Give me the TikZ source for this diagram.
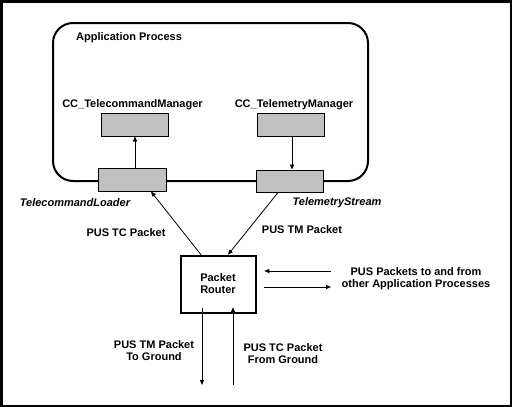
\documentclass[tikz,border=0pt]{standalone}
\usepackage{fontspec}
\setmainfont{Liberation Sans}
\usetikzlibrary{arrows.meta,calc}
\begin{document}
\begin{tikzpicture}[x=1pt,y=-1pt,
  lbl/.style={font=\fontsize{11}{12}\selectfont\bfseries, inner sep=0pt, align=center, yshift=-1.5pt},
  ilbl/.style={font=\fontsize{11}{12}\selectfont\bfseries\itshape, inner sep=0pt, yshift=-1.5pt},
  graybox/.style={draw=black, fill=gray75, line width=1pt, inner sep=0pt},
  arr/.style={-{Triangle[length=5pt,width=4pt]}, line width=0.8pt},
]
\definecolor{gray75}{HTML}{C0C0C0}
\useasboundingbox (0,0) rectangle (512,407);
\fill[white] (0,0) rectangle (512,407);
\draw[line width=2.5pt] (1.25,1.25) rectangle (510.75,405.75);
% application process
\draw[line width=2pt, rounded corners=20pt] (53,23) rectangle (368,181);
\node[lbl, anchor=west] (ap) at (76,36) {Application Process};
% boxes
\node[graybox, minimum width=67pt, minimum height=23pt] (tcm) at (134.5,124.5) {};
\node[graybox, minimum width=67pt, minimum height=23pt] (tmm) at (290.5,124.5) {};
\node[graybox, minimum width=68pt, minimum height=23pt] (tcl) at (132,179.5) {};
\node[graybox, minimum width=67pt, minimum height=22pt] (tms) at (289.5,181) {};
\node[lbl] (tcmlbl) at (132.5,103) {CC\_TelecommandManager};
\node[lbl] (tmmlbl) at (294,103) {CC\_TelemetryManager};
\node[ilbl] (tcllbl) at (75,201) {TelecommandLoader};
\node[ilbl] (tmslbl) at (337,201) {TelemetryStream};
% router
\node[draw, line width=2.5pt, minimum width=75pt, minimum height=57pt, inner sep=0pt] (router) at (218.5,284.5) {};
\node[lbl] (routerlbl) at (218,282) {Packet\\Router};
% internal arrows
\draw[arr] ([xshift=3pt]tcl.north) -- ([xshift=3pt]tcl.north |- tcm.south);
\draw[arr] ([xshift=1.5pt]tmm.south) -- ([xshift=1.5pt]tmm.south |- tms.north);
% router to loader / stream
\draw[arr] ([xshift=-17.5pt]router.north) -- ([xshift=19pt]tcl.south);
\draw[arr] ([xshift=-11.5pt]tms.south) -- ([xshift=9.5pt]router.north);
\node[lbl] (tcp) at (126,231) {PUS TC Packet};
\node[lbl] (tmp) at (302,228) {PUS TM Packet};
% other processes
\coordinate (o1) at (331,271);
\coordinate (o2) at (331,287);
\draw[arr] (o1) -- ([xshift=7pt]router.east |- o1);
\draw[arr] ([xshift=7pt]router.east |- o2) -- (o2);
\node[lbl] (other) at (416,277) {PUS Packets to and from\\other Application Processes};
% ground
\coordinate (g1) at (202,385);
\coordinate (g2) at (233,385);
\draw[arr] ([yshift=6pt]router.south -| g1) -- (g1);
\draw[arr] (g2) -- ([yshift=7pt]router.south -| g2);
\node[lbl] (tmg) at (154,349) {PUS TM Packet\\To Ground};
\node[lbl] (tcg) at (283,352) {PUS TC Packet\\From Ground};
\end{tikzpicture}
\end{document}
